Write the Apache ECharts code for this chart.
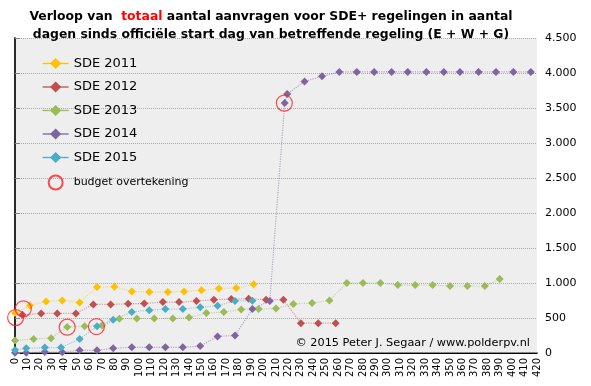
<!DOCTYPE html>
<html><head><meta charset="utf-8">
<script src="https://cdn.jsdelivr.net/npm/echarts@6/dist/echarts.min.js"></script>
<style>html,body{margin:0;padding:0;background:#fff}#c{width:591px;height:386px}</style>
</head><body><div id="c"></div>
<script>
var sde2011Days = [0,12,25,38,52,66,80,94,108,123,136,150,164,178,192];
var sde2011 = [570,680,737,751,723,943,947,880,871,871,880,895,923,928,981];

var sde2012Days = [6,21,34,49,63,77,91,104,119,132,146,160,174,188,202,216,230,244,258];
var sde2012 = [545,565,565,565,694,694,703,708,727,727,742,761,770,775,761,761,426,426,426];

var sde2013Days = [0,15,29,42,56,70,84,98,112,127,140,154,168,182,196,210,224,239,253,267,280,294,308,322,336,350,364,378,390];
var sde2013 = [177,201,211,373,383,392,488,493,493,493,507,571,584,622,627,636,701,713,751,1000,1000,1000,971,971,971,957,957,957,1057];

var sde2014Days = [0,9,24,38,52,66,79,94,108,121,135,149,163,177,191,205,217,219,233,247,261,275,289,303,316,331,345,358,373,387,401,415];
var sde2014 = [5,5,14,10,38,38,67,81,81,81,81,100,237,251,629,744,3570,3700,3878,3955,4015,4015,4015,4015,4015,4015,4015,4015,4015,4015,4015,4015];

var sde2015Days = [0,9,24,37,52,66,79,94,108,121,135,149,163,177,191];
var sde2015 = [43,67,77,77,201,383,474,584,612,627,629,652,675,744,746];

var budgetDays = [0.5,6.7,42,65.5,216.7];
var budgetValues = [506,631,369,378,3570];

var seriesNames = ['SDE 2011','SDE 2012','SDE 2013','SDE 2014','SDE 2015'];
var seriesColors = ['#FFC000','#C0504D','#9BBB59','#8064A2','#4BACC6'];
var budgetName = 'budget overtekening';

function pairs(d, v){ return d.map(function(x,i){ return [x, v[i]]; }); }
function fmt(v){ return String(v).replace(/\B(?=(\d{3})+(?!\d))/g,'.'); }

var allDays = [sde2011Days,sde2012Days,sde2013Days,sde2014Days,sde2015Days];
var allVals = [sde2011,sde2012,sde2013,sde2014,sde2015];

var FONT = 'DejaVu Sans';
var series = seriesNames.map(function(n,i){
  return {
    name:n, type:'line', data:pairs(allDays[i], allVals[i]),
    symbol:'diamond', symbolSize:8, color:seriesColors[i],
    itemStyle:{color:seriesColors[i]},
    lineStyle:{type:'dotted', width:1.2, opacity:0.5, color:seriesColors[i]},
    xAxisIndex:0, yAxisIndex:0, animation:false, z:3
  };
});
series.push({
  name:budgetName, type:'scatter', data:pairs(budgetDays,budgetValues),
  symbol:'circle', symbolSize:16,
  itemStyle:{color:'rgba(0,0,0,0)', borderColor:'#FF2020', borderWidth:1.2},
  xAxisIndex:0, yAxisIndex:0, animation:false, z:5
});

var chart = echarts.init(document.getElementById('c'), null, {renderer:'canvas'});
chart.setOption({
  backgroundColor:'#ffffff',
  animation:false,
  textStyle:{fontFamily:FONT},
  title:{
    left:266, top:3, textAlign:'center',
    text:'{a|Verloop van  }{r|totaal}{a| aantal aanvragen voor SDE+ regelingen in aantal}\n{a|dagen sinds officiële start dag van betreffende regeling (E + W + G)}',
    textStyle:{
      rich:{
        a:{fontFamily:FONT, fontWeight:'bold', fontSize:12.4, color:'#000', lineHeight:18},
        r:{fontFamily:FONT, fontWeight:'bold', fontSize:12.4, color:'#FF0000', lineHeight:18}
      }
    }
  },
  grid:{left:15, right:54, top:38, bottom:33, show:true, backgroundColor:'#EEEEEE', borderWidth:0},
  legend:{
    orient:'vertical', left:37, top:52, itemWidth:26, itemHeight:14, itemGap:10.5,
    textStyle:{fontFamily:FONT, fontSize:13, color:'#000'},
    lineStyle:{type:'solid', width:1.3, opacity:1},
    data:seriesNames.map(function(n){return {name:n};}).concat([{name:budgetName, textStyle:{fontSize:11}}])
  },
  xAxis:[{
    type:'value', min:0, max:420, interval:10, position:'bottom',
    axisLine:{show:true, onZero:false, lineStyle:{color:'#888', width:2}},
    axisTick:{show:false},
    axisLabel:{rotate:90, fontFamily:FONT, fontSize:10, color:'#000', margin:5},
    splitLine:{show:false}
  },{
    type:'value', min:0, max:420, position:'top',
    axisLine:{show:true, lineStyle:{color:'#000', width:1}},
    axisTick:{show:false}, axisLabel:{show:false}, splitLine:{show:false}
  }],
  yAxis:[{
    type:'value', min:0, max:4500, interval:500, position:'right',
    axisLine:{show:true, lineStyle:{color:'#888', width:1.5}},
    axisTick:{show:true, inside:false, length:5, lineStyle:{color:'#888'}},
    axisLabel:{fontFamily:FONT, fontSize:11, color:'#000', margin:8, formatter:fmt},
    splitLine:{show:true, lineStyle:{color:'#AAAAAA', type:'dotted', width:1}}
  },{
    type:'value', min:0, max:4500, position:'left',
    axisLine:{show:true, lineStyle:{color:'#000', width:1.5}},
    axisTick:{show:false}, axisLabel:{show:false}, splitLine:{show:false}
  }],
  graphic:[{
    type:'text', right:61, bottom:37,
    style:{text:'© 2015 Peter J. Segaar / www.polderpv.nl', font:'11.3px "DejaVu Sans"', fill:'#000'}
  }],
  series:series
});
</script></body></html>
